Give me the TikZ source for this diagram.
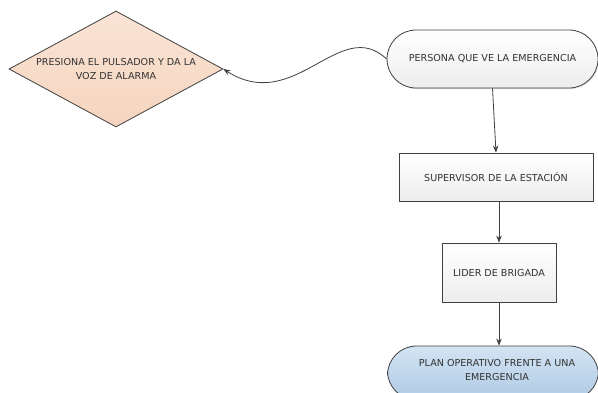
\documentclass[tikz,border=0pt]{standalone}
\usepackage{fontspec}
\setmainfont{DejaVu Sans}
\usetikzlibrary{shapes.geometric,arrows.meta,shadows}
\definecolor{edge}{HTML}{404040}
\definecolor{peachTop}{HTML}{FAE4D6}
\definecolor{peachBot}{HTML}{F5D4BE}
\definecolor{greyTop}{HTML}{FFFFFF}
\definecolor{greyBot}{HTML}{EDEDED}
\definecolor{blueTop}{HTML}{D3E3F3}
\definecolor{blueBot}{HTML}{AFCBE5}
\tikzset{
  txt/.style={font=\fontsize{9.6}{13.5}\selectfont, text=black!80, align=center},
  base/.style={txt, draw=edge, line width=0.8pt, inner sep=0pt},
  decision/.style={base, diamond, minimum width=214pt, minimum height=116pt,
    top color=peachTop, bottom color=peachBot},
  terminal/.style={base, rounded corners=29pt, minimum width=211pt, minimum height=58pt,
    top color=greyTop, bottom color=greyBot},
  process/.style={base, minimum height=48pt, top color=greyTop, bottom color=greyBot,
    drop shadow={opacity=0.25, shadow xshift=1pt, shadow yshift=-1pt}},
  flow/.style={draw=edge, line width=0.8pt, -{Stealth[length=7pt,width=5.5pt]}}
}
\begin{document}
\begin{tikzpicture}[x=1pt,y=-1pt]
  \useasboundingbox (0,0) rectangle (598,392);
  \clip (0,0) rectangle (598,392);
  % decision
  \node[decision] (alarm) at (116,69) {};
  \node[txt] (alarmtxt) at (116,69) {PRESIONA EL PULSADOR Y DA LA\\VOZ DE ALARMA};
  % start terminal
  \node[terminal, drop shadow={opacity=0.25, shadow xshift=1pt, shadow yshift=-1pt}] (person) at (492.5,59) {PERSONA QUE VE LA EMERGENCIA};
  % process steps
  \node[process, minimum width=194pt] (super) at (496,177) {SUPERVISOR DE LA ESTACIÓN};
  \node[process, minimum width=114pt, minimum height=59pt] (lider) at (499,272.5) {LIDER DE BRIGADA};
  % end terminal
  \node[terminal, top color=blueTop, bottom color=blueBot, minimum height=54pt] (plan) at (493,373) {};
  \node[txt] (plantxt) at (497,370) {PLAN OPERATIVO FRENTE A UNA\\EMERGENCIA};
  % connectors
  \draw[flow] (person.west) .. controls (340,15) and (295,115) .. (alarm.east);
  \draw[flow] (person.south) -- (super.north);
  \draw[flow] (super.south -| lider.north) -- (lider.north);
  \draw[flow] (lider.south) -- (plan.north -| lider.south);
\end{tikzpicture}
\end{document}
